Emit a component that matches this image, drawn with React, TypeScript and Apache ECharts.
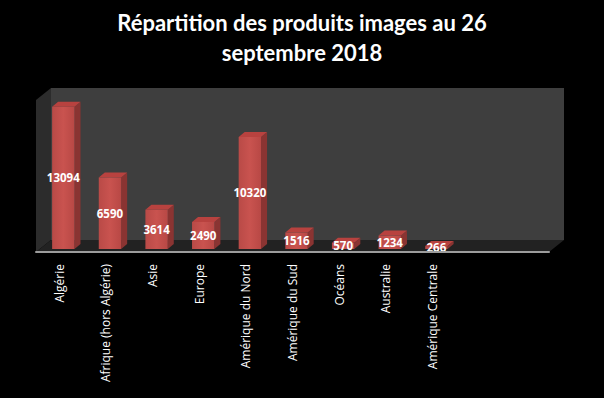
import React, { useEffect, useRef } from "react";
import * as echarts from "echarts";

const categories = [
  "Algérie",
  "Afrique (hors Algérie)",
  "Asie",
  "Europe",
  "Amérique du Nord",
  "Amérique du Sud",
  "Océans",
  "Australie",
  "Amérique Centrale",
];
const values = [13094, 6590, 3614, 2490, 10320, 1516, 570, 1234, 266];
const emptySlots = ["", ""];
const yMax = 14000;
const titleText = "Répartition des produits images au 26\nseptembre 2018";

const DX = 15;
const DY = 12;
const BAR_OX = 4;
const BAR_OY = 3;
const SIDE_X = 6;
const SIDE_Y = 5;

export default function App() {
  const ref = useRef<HTMLDivElement>(null);
  useEffect(() => {
    if (!ref.current) return;
    const chart = echarts.init(ref.current, null, { renderer: "svg" });
    const option: any = {
      animation: false,
      backgroundColor: "#000000",
      title: {
        text: titleText,
        left: "center",
        top: 2,
        textStyle: {
          color: "#ffffff",
          fontSize: 22,
          fontWeight: "bold",
          fontFamily: "Lato",
          lineHeight: 30,
        },
      },
      grid: { left: 36, top: 100, width: 513, height: 152 },
      xAxis: {
        type: "category",
        data: [...categories, ...emptySlots],
        boundaryGap: true,
        axisLine: { show: true, lineStyle: { color: "#9c9c9c", width: 2 } },
        axisTick: { show: false },
        axisLabel: {
          rotate: 90,
          color: "#ffffff",
          fontSize: 12,
          fontFamily: "Open Sans",
          margin: 12,
          interval: 0,
        },
        splitLine: { show: false },
        z: 5,
      },
      yAxis: {
        type: "value",
        min: 0,
        max: yMax,
        show: false,
        splitLine: { show: false },
      },
      series: [
        {
          type: "custom",
          silent: true,
          z: 1,
          data: [[0, 0]],
          renderItem: (params: any, api: any) => {
            const cs = params.coordSys;
            const x0 = cs.x;
            const y0 = cs.y;
            const w = cs.width;
            const h = cs.height;
            const b = y0 + h;
            return {
              type: "group",
              children: [
                {
                  type: "rect",
                  shape: { x: x0 + DX, y: y0 - DY, width: w, height: h },
                  style: { fill: "#3e3e3e" },
                },
                {
                  type: "polygon",
                  shape: {
                    points: [
                      [x0, y0],
                      [x0 + DX, y0 - DY],
                      [x0 + DX, b - DY],
                      [x0, b],
                    ],
                  },
                  style: { fill: "#2c2c2c" },
                },
                {
                  type: "polygon",
                  shape: {
                    points: [
                      [x0, b],
                      [x0 + DX, b - DY],
                      [x0 + w + DX, b - DY],
                      [x0 + w, b],
                    ],
                  },
                  style: { fill: "#222222" },
                },
              ],
            };
          },
        },
        {
          type: "custom",
          z: 3,
          data: values.map((v, i) => [i, v]),
          renderItem: (params: any, api: any) => {
            const idx = api.value(0);
            const val = api.value(1);
            const p = api.coord([idx, val]);
            const p0 = api.coord([idx, 0]);
            const band = api.size([1, 0])[0];
            const bw = band * 0.48;
            const cx = p[0] + BAR_OX;
            const left = cx - bw / 2;
            const right = cx + bw / 2;
            const top = p[1] - BAR_OY;
            const bottom = p0[1] - BAR_OY;
            return {
              type: "group",
              children: [
                {
                  type: "polygon",
                  shape: {
                    points: [
                      [right, top],
                      [right + SIDE_X, top - SIDE_Y],
                      [right + SIDE_X, bottom - SIDE_Y],
                      [right, bottom],
                    ],
                  },
                  style: { fill: "#8a3432" },
                },
                {
                  type: "polygon",
                  shape: {
                    points: [
                      [left, top],
                      [left + SIDE_X, top - SIDE_Y],
                      [right + SIDE_X, top - SIDE_Y],
                      [right, top],
                    ],
                  },
                  style: { fill: "#b8423f" },
                },
                {
                  type: "rect",
                  shape: { x: left, y: top, width: bw, height: bottom - top },
                  style: {
                    fill: new echarts.graphic.LinearGradient(0, 0, 1, 0, [
                      { offset: 0, color: "#b94a47" },
                      { offset: 0.5, color: "#c9534f" },
                      { offset: 1, color: "#b84845" },
                    ]),
                  },
                },
                {
                  type: "text",
                  z2: 10,
                  style: {
                    text: String(val),
                    x: cx,
                    y: (top + bottom) / 2,
                    align: "center",
                    verticalAlign: "middle",
                    fill: "#ffffff",
                    font: 'bold 11.5px "Open Sans"',
                  },
                },
              ],
            };
          },
        },
      ],
    };
    chart.setOption(option);
    return () => chart.dispose();
  }, []);
  return (
    <div
      ref={ref}
      style={{
        position: "fixed",
        left: 0,
        top: 0,
        width: 604,
        height: 398,
        background: "#000",
      }}
    />
  );
}
